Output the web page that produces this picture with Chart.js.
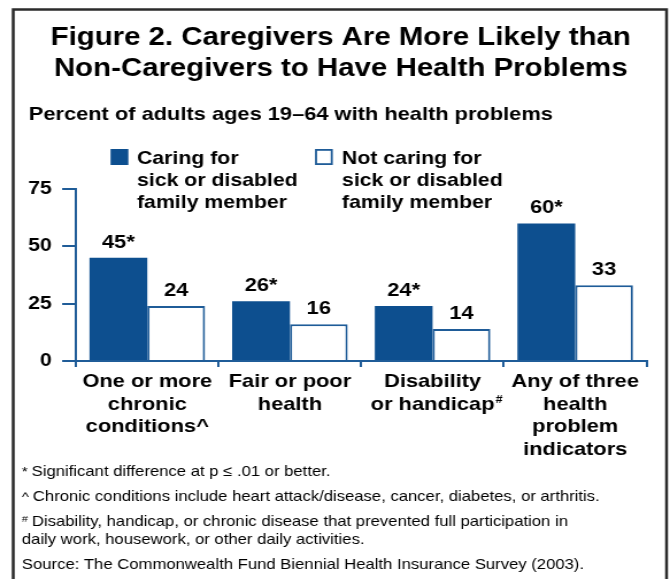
<!DOCTYPE html>
<html>
<head>
<meta charset="utf-8">
<script src="https://cdn.jsdelivr.net/npm/chart.js@4/dist/chart.umd.min.js"></script>
<style>
  html, body { margin: 0; padding: 0; background: #fff; overflow: hidden; }
  /* the figure is drawn a little narrow and widened, like the printed original */
  #wrap { width: 583px; height: 579px; transform: scaleX(1.1492); transform-origin: 0 0; }
</style>
</head>
<body>
<div id="wrap"><canvas id="figure"></canvas></div>
<script>
// Data
const categories = [
  ['One or more', 'chronic', 'conditions^'],
  ['Fair or poor', 'health'],
  ['Disability', 'or handicap'],
  ['Any of three', 'health', 'problem', 'indicators']
];
const caregivers = [45, 26, 24, 60];
const nonCaregivers = [24, 16, 14, 33];
const significant = [true, true, true, true];
const yTicks = [0, 25, 50, 75];
const seriesNames = [
  ['Caring for', 'sick or disabled', 'family member'],
  ['Not caring for', 'sick or disabled', 'family member']
];
const titleLines = ['Figure 2. Caregivers Are More Likely than', 'Non-Caregivers to Have Health Problems'];
const subtitle = 'Percent of adults ages 19\u201364 with health problems';
const notes = [
  ['*', 'Significant difference at p \u2264 .01 or better.'],
  ['^', 'Chronic conditions include heart attack/disease, cancer, diabetes, or arthritis.'],
  ['#', 'Disability, handicap, or chronic disease that prevented full participation in', 'daily work, housework, or other daily activities.'],
  ['', 'Source: The Commonwealth Fund Biennial Health Insurance Survey (2003).']
];

const FONT = '"Liberation Sans", Arial, Helvetica, sans-serif';
const DARK = '#0d4f8f';
const LINE = '#1f5c98';

// frame, titles, legend, bar values and notes
const textPlugin = {
  id: 'texts',
  beforeDraw(chart) {
    const ctx = chart.ctx;
    ctx.save();
    ctx.fillStyle = '#fff';
    ctx.fillRect(0, 0, chart.width, chart.height);
    ctx.restore();
  },
  afterDraw(chart) {
    const ctx = chart.ctx;
    ctx.save();

    ctx.strokeStyle = '#2b2b2b';
    ctx.lineWidth = 2.5;
    ctx.strokeRect(11.5, 9.5, 568.5, 620);

    ctx.fillStyle = '#000';
    ctx.textBaseline = 'alphabetic';
    ctx.textAlign = 'center';
    ctx.font = 'bold 25.6px ' + FONT;
    ctx.fillText(titleLines[0], 296.5, 44.5);
    ctx.fillText(titleLines[1], 296.5, 75.5);

    ctx.textAlign = 'left';
    ctx.font = 'bold 19px ' + FONT;
    ctx.fillText(subtitle, 25, 120);

    // legend
    const boxX = [96.2, 274.1];
    const textX = [119.2, 297.6];
    ctx.font = 'bold 18.5px ' + FONT;
    seriesNames.forEach((lines, i) => {
      const ds = chart.data.datasets[i];
      ctx.fillStyle = ds.backgroundColor;
      ctx.fillRect(boxX[i], 149, 15.5, 16);
      if (ds.borderWidth) {
        ctx.strokeStyle = ds.borderColor;
        ctx.lineWidth = 1.8;
        ctx.strokeRect(boxX[i] + 0.9, 149.9, 13.7, 14.2);
      }
      ctx.fillStyle = '#000';
      lines.forEach((t, k) => ctx.fillText(t, textX[i], 164 + k * 22));
    });

    // values over the bars
    ctx.textAlign = 'center';
    ctx.font = 'bold 19px ' + FONT;
    chart.data.datasets.forEach((ds, i) => {
      chart.getDatasetMeta(i).data.forEach((bar, j) => {
        const star = (i === 0 && significant[j]) ? '*' : '';
        ctx.fillText(ds.data[j] + star, bar.x, bar.y - 10);
      });
    });

    // raised # after "or handicap"
    const xs = chart.scales.x;
    const w = ctx.measureText(categories[2][1]).width;
    ctx.textAlign = 'left';
    ctx.font = 'bold 11px ' + FONT;
    ctx.fillText('#', xs.getPixelForTick(2) + w / 2 + 1, 403);

    // notes
    const base = [476, 501, 526, 569];
    notes.forEach((n, i) => {
      let x = 19;
      if (n[0]) {
        ctx.font = (n[0] === '#' ? '9.5px ' : '13px ') + FONT;
        ctx.fillText(n[0], x, base[i] - (n[0] === '#' ? 4 : 0));
        x += ctx.measureText(n[0]).width + 3.5;
      }
      ctx.font = '14.5px ' + FONT;
      ctx.fillText(n[1], x, base[i]);
      if (n[2]) ctx.fillText(n[2], 19, base[i] + 18);
    });

    ctx.restore();
  }
};

new Chart(document.getElementById('figure'), {
  type: 'bar',
  data: {
    labels: categories,
    datasets: [
      { label: 'Caring for sick or disabled family member', data: caregivers,
        backgroundColor: DARK, borderWidth: 0 },
      { label: 'Not caring for sick or disabled family member', data: nonCaregivers,
        backgroundColor: '#ffffff', borderColor: LINE, borderWidth: 2 }
    ]
  },
  options: {
    responsive: true,
    maintainAspectRatio: false,
    animation: false,
    devicePixelRatio: 1,
    categoryPercentage: 0.81,
    barPercentage: 1.0,
    layout: { padding: { top: 189, right: 20.4, bottom: 0, left: 0 } },
    plugins: { legend: { display: false }, tooltip: { enabled: false }, title: { display: false } },
    scales: {
      x: {
        grid: { display: true, drawOnChartArea: false, drawTicks: true, tickLength: 6, color: LINE, lineWidth: 2, offset: true },
        border: { display: true, color: LINE, width: 2 },
        ticks: { color: '#000', padding: 4, maxRotation: 0, autoSkip: false,
          font: { family: FONT, size: 19, weight: 'bold', lineHeight: 1.18 } },
        afterFit: s => { s.height = 218; }
      },
      y: {
        min: 0, max: 75,
        afterBuildTicks: s => { s.ticks = yTicks.map(v => ({ value: v })); },
        grid: { display: true, drawOnChartArea: false, drawTicks: true, tickLength: 12, color: LINE, lineWidth: 2 },
        border: { display: true, color: LINE, width: 2 },
        ticks: { color: '#000', padding: 9, font: { family: FONT, size: 18.5, weight: 'bold' } },
        afterFit: s => { s.width = 66.1; }
      }
    }
  },
  plugins: [textPlugin]
});
</script>
</body>
</html>
